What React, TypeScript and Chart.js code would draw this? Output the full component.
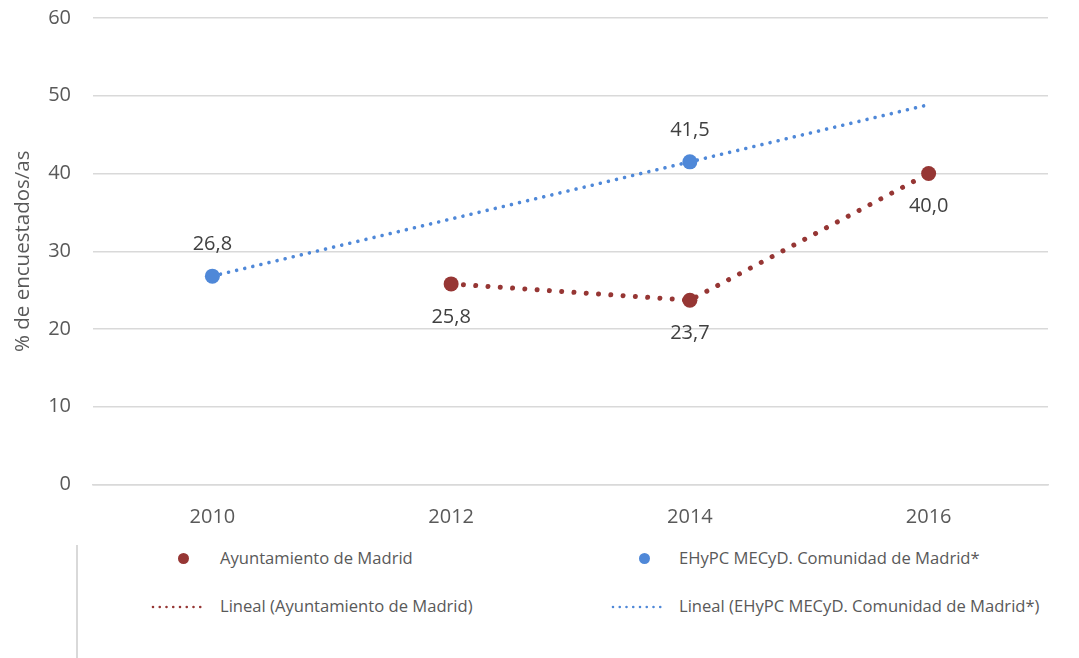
import React, { useEffect, useRef } from "react";
import { Chart, registerables } from "chart.js";

Chart.register(...registerables);

const years = ["2010", "2012", "2014", "2016"];
const ayuntamiento = [null, 25.8, 23.7, 40.0];
const ehypc = [26.8, null, 41.5, null];
const yTicks = [0, 10, 20, 30, 40, 50, 60];

const RED = "#963634";
const BLUE = "#4F88D8";
const FONT = "'Open Sans', sans-serif";

const legendRed = "Ayuntamiento de Madrid";
const legendBlue = "EHyPC MECyD. Comunidad de Madrid*";
const legendRedTrend = "Lineal (Ayuntamiento de Madrid)";
const legendBlueTrend = "Lineal (EHyPC MECyD. Comunidad de Madrid*)";

function linearTrend(values: (number | null)[]): number[] {
  const pts = values
    .map((v, i) => (v == null ? null : [i, v]))
    .filter((p): p is number[] => p !== null);
  const n = pts.length;
  const mx = pts.reduce((s, p) => s + p[0], 0) / n;
  const my = pts.reduce((s, p) => s + p[1], 0) / n;
  let num = 0;
  let den = 0;
  pts.forEach((p) => {
    num += (p[0] - mx) * (p[1] - my);
    den += (p[0] - mx) * (p[0] - mx);
  });
  const slope = num / den;
  const first = pts[0][0];
  return values.map((_, i) => (i < first ? (null as any) : my + slope * (i - mx)));
}

const fmt = (v: number) => v.toFixed(1).replace(".", ",");

const labelPlugin = {
  id: "pointLabels",
  afterDatasetsDraw(chart: any) {
    const ctx = chart.ctx;
    ctx.save();
    ctx.font = `20px ${FONT}`;
    ctx.fillStyle = "#404040";
    ctx.textAlign = "center";
    ctx.textBaseline = "middle";
    const drawSet = (dsIndex: number, offset: number) => {
      const meta = chart.getDatasetMeta(dsIndex);
      const data = chart.data.datasets[dsIndex].data;
      meta.data.forEach((el: any, i: number) => {
        const v = data[i];
        if (v == null) return;
        ctx.fillText(fmt(v), el.x, el.y + offset);
      });
    };
    drawSet(1, -32);
    drawSet(0, 33);
    ctx.restore();
  },
};

function DottedSwatch({ color }: { color: string }) {
  return (
    <svg width={60} height={8} style={{ display: "block" }}>
      <line
        x1={2}
        y1={4}
        x2={56}
        y2={4}
        stroke={color}
        strokeWidth={2.6}
        strokeLinecap="round"
        strokeDasharray="0 6.75"
      />
    </svg>
  );
}

function Dot({ color }: { color: string }) {
  return (
    <div
      style={{
        width: 11,
        height: 11,
        borderRadius: "50%",
        background: color,
      }}
    />
  );
}

export default function App() {
  const canvasRef = useRef<HTMLCanvasElement | null>(null);

  useEffect(() => {
    document.body.style.margin = "0";
    const canvas = canvasRef.current;
    if (!canvas) return;
    const chart = new Chart(canvas, {
      type: "line",
      data: {
        labels: years,
        datasets: [
          {
            label: legendRed,
            data: ayuntamiento as any,
            showLine: false,
            pointRadius: 7.5,
            pointBackgroundColor: RED,
            pointBorderWidth: 0,
            borderColor: RED,
            order: 0,
          },
          {
            label: legendBlue,
            data: ehypc as any,
            showLine: false,
            pointRadius: 7.5,
            pointBackgroundColor: BLUE,
            pointBorderWidth: 0,
            borderColor: BLUE,
            order: 0,
          },
          {
            label: legendRedTrend,
            data: ayuntamiento as any,
            borderColor: RED,
            borderWidth: 5,
            borderDash: [0.01, 12.3],
            borderCapStyle: "round",
            pointRadius: 0,
            tension: 0,
            spanGaps: true,
            fill: false,
            order: 1,
          },
          {
            label: legendBlueTrend,
            data: linearTrend(ehypc),
            borderColor: BLUE,
            borderWidth: 3.6,
            borderDash: [0.01, 8.3],
            borderCapStyle: "round",
            pointRadius: 0,
            tension: 0,
            fill: false,
            order: 1,
          },
        ],
      },
      options: {
        animation: false,
        responsive: false,
        maintainAspectRatio: false,
        layout: { padding: { left: 0, right: 31, top: 18, bottom: 0 } },
        plugins: {
          legend: { display: false },
          tooltip: { enabled: false },
        },
        scales: {
          x: {
            offset: true,
            grid: { display: false, drawTicks: false },
            border: { display: true, color: "#d9d9d9", width: 1.5 },
            ticks: {
              color: "#595959",
              font: { family: FONT, size: 20 },
              padding: 21,
            },
            afterFit: (scale: any) => {
              scale.height = 540 - 18 - 466.5;
              scale.paddingTop = 0;
              scale.paddingBottom = 0;
            },
          },
          y: {
            min: 0,
            max: 60,
            afterBuildTicks: (scale: any) => {
              scale.ticks = yTicks.map((v) => ({ value: v }));
            },
            grid: { color: "#d9d9d9", lineWidth: 1.5, drawTicks: false },
            border: { display: false },
            ticks: {
              color: "#595959",
              font: { family: FONT, size: 20 },
              padding: 22,
            },
            title: {
              display: true,
              text: "% de encuestados/as",
              color: "#595959",
              font: { family: FONT, size: 20.5 },
              padding: { top: 11, bottom: 0 },
            },
            afterFit: (scale: any) => {
              scale.width = 93;
              scale.paddingTop = 0;
              scale.paddingBottom = 0;
            },
          },
        },
      },
      plugins: [labelPlugin],
    });
    return () => chart.destroy();
  }, []);

  const textStyle: React.CSSProperties = {
    position: "absolute",
    fontFamily: FONT,
    fontSize: 16.6,
    color: "#595959",
    lineHeight: "20px",
    whiteSpace: "nowrap",
  };

  return (
    <div
      style={{
        position: "fixed",
        left: 0,
        top: 0,
        width: 1079,
        height: 658,
        background: "#fff",
        overflow: "hidden",
      }}
    >
      <canvas
        ref={canvasRef}
        width={1079}
        height={540}
        style={{ position: "absolute", left: 0, top: 0, width: 1079, height: 540 }}
      />
      <div
        style={{
          position: "absolute",
          left: 76,
          top: 545,
          width: 2,
          height: 113,
          background: "#d9d9d9",
        }}
      />
      <div style={{ position: "absolute", left: 178, top: 553 }}>
        <Dot color={RED} />
      </div>
      <div style={{ ...textStyle, left: 220, top: 548 }}>{legendRed}</div>
      <div style={{ position: "absolute", left: 639, top: 553 }}>
        <Dot color={BLUE} />
      </div>
      <div style={{ ...textStyle, left: 679, top: 548 }}>{legendBlue}</div>
      <div style={{ position: "absolute", left: 151, top: 603 }}>
        <DottedSwatch color={RED} />
      </div>
      <div style={{ ...textStyle, left: 220, top: 596 }}>{legendRedTrend}</div>
      <div style={{ position: "absolute", left: 611, top: 603 }}>
        <DottedSwatch color={BLUE} />
      </div>
      <div style={{ ...textStyle, left: 679, top: 596 }}>{legendBlueTrend}</div>
    </div>
  );
}
